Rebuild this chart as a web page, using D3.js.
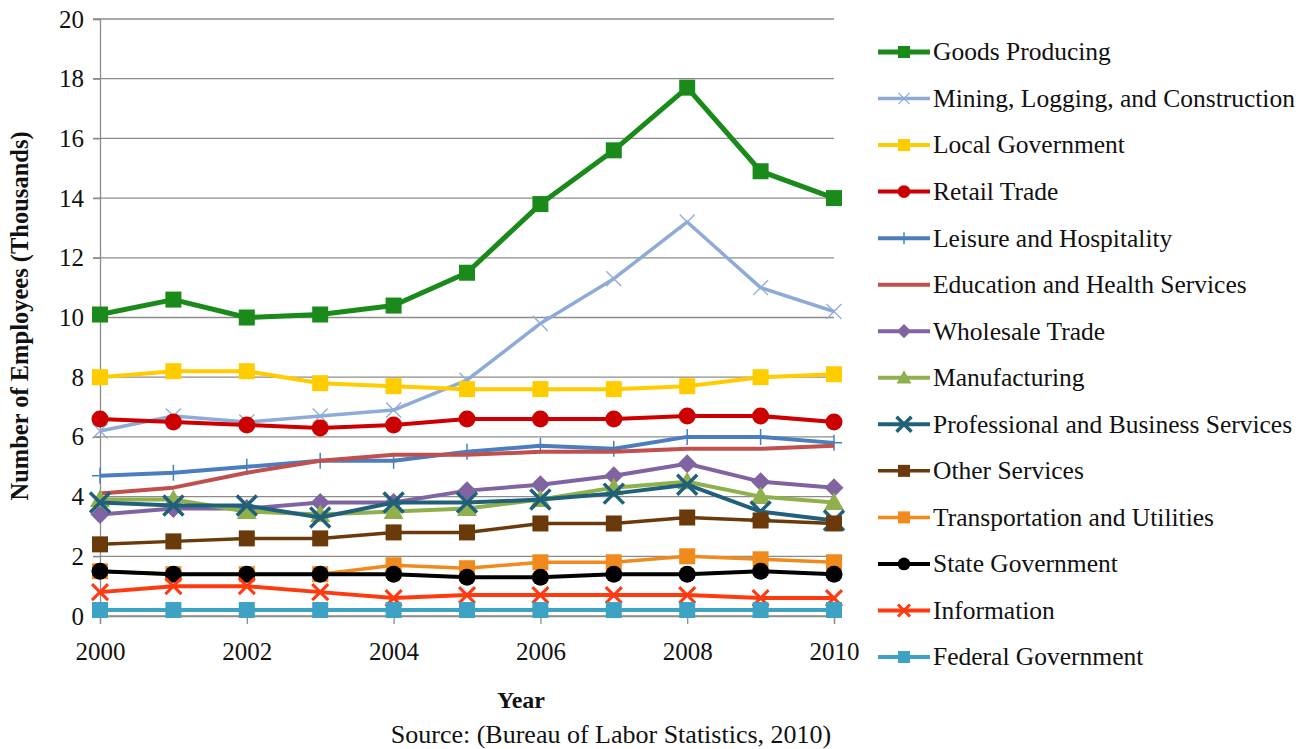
<!DOCTYPE html>
<html lang="en">
<head>
    <meta charset="UTF-8">
    <title>Employees by Sector 2000-2010</title>
    <script src="https://d3js.org/d3.v7.min.js"></script>
    <style>
        body { margin: 0; background: #fff; }
        svg { display: block; font-family: "Liberation Serif", "Times New Roman", serif; }
    </style>
</head>
<body>
    <svg id="chart" width="1313" height="749"></svg>

    <script>
        // Years on the x axis
        const years = [2000, 2001, 2002, 2003, 2004, 2005, 2006, 2007, 2008, 2009, 2010];
        const xTickYears = [2000, 2002, 2004, 2006, 2008, 2010];
        const yTicks = [0, 2, 4, 6, 8, 10, 12, 14, 16, 18, 20];

        // Series names (legend order)
        const seriesNames = [
            "Goods Producing",
            "Mining, Logging, and Construction",
            "Local Government",
            "Retail Trade",
            "Leisure and Hospitality",
            "Education and Health Services",
            "Wholesale Trade",
            "Manufacturing",
            "Professional and Business Services",
            "Other Services",
            "Transportation and Utilities",
            "State Government",
            "Information",
            "Federal Government"
        ];

        // Values (thousands)
        const goodsProducing   = [10.1, 10.6, 10.0, 10.1, 10.4, 11.5, 13.8, 15.6, 17.7, 14.9, 14.0];
        const miningLogging    = [6.2, 6.7, 6.5, 6.7, 6.9, 7.9, 9.8, 11.3, 13.2, 11.0, 10.2];
        const localGovernment  = [8.0, 8.2, 8.2, 7.8, 7.7, 7.6, 7.6, 7.6, 7.7, 8.0, 8.1];
        const retailTrade      = [6.6, 6.5, 6.4, 6.3, 6.4, 6.6, 6.6, 6.6, 6.7, 6.7, 6.5];
        const leisure          = [4.7, 4.8, 5.0, 5.2, 5.2, 5.5, 5.7, 5.6, 6.0, 6.0, 5.8];
        const education        = [4.1, 4.3, 4.8, 5.2, 5.4, 5.4, 5.5, 5.5, 5.6, 5.6, 5.7];
        const wholesaleTrade   = [3.4, 3.6, 3.6, 3.8, 3.8, 4.2, 4.4, 4.7, 5.1, 4.5, 4.3];
        const manufacturing    = [3.9, 3.9, 3.5, 3.4, 3.5, 3.6, 3.9, 4.3, 4.5, 4.0, 3.8];
        const professional     = [3.8, 3.7, 3.7, 3.3, 3.8, 3.8, 3.9, 4.1, 4.4, 3.5, 3.2];
        const otherServices    = [2.4, 2.5, 2.6, 2.6, 2.8, 2.8, 3.1, 3.1, 3.3, 3.2, 3.1];
        const transportation   = [1.5, 1.4, 1.4, 1.4, 1.7, 1.6, 1.8, 1.8, 2.0, 1.9, 1.8];
        const stateGovernment  = [1.5, 1.4, 1.4, 1.4, 1.4, 1.3, 1.3, 1.4, 1.4, 1.5, 1.4];
        const information      = [0.8, 1.0, 1.0, 0.8, 0.6, 0.7, 0.7, 0.7, 0.7, 0.6, 0.6];
        const federalGovernment = [0.2, 0.2, 0.2, 0.2, 0.2, 0.2, 0.2, 0.2, 0.2, 0.2, 0.2];

        const seriesValues = [
            goodsProducing, miningLogging, localGovernment, retailTrade, leisure,
            education, wholesaleTrade, manufacturing, professional, otherServices,
            transportation, stateGovernment, information, federalGovernment
        ];

        // Style per series: colour, marker type, line width
        const styles = [
            { color: "#1a8a1a", marker: "square", width: 5 },
            { color: "#8eabd8", marker: "x", width: 3.5 },
            { color: "#ffcc00", marker: "square", width: 4 },
            { color: "#cc0000", marker: "circle", width: 4 },
            { color: "#4a7ebf", marker: "plus", width: 4 },
            { color: "#c0504d", marker: "none", width: 4 },
            { color: "#8064a2", marker: "diamond", width: 4 },
            { color: "#8fb04c", marker: "triangle", width: 4 },
            { color: "#20607a", marker: "bigx", width: 4 },
            { color: "#6b3a0a", marker: "square", width: 3.5 },
            { color: "#f08a1c", marker: "square", width: 3.5 },
            { color: "#000000", marker: "circle", width: 4 },
            { color: "#ff3a10", marker: "x2", width: 4 },
            { color: "#3ea2c4", marker: "square", width: 4 }
        ];

        const series = seriesNames.map((name, i) => ({
            name,
            style: styles[i],
            values: years.map((y, j) => ({ year: y, value: seriesValues[i][j] }))
        }));

        const svg = d3.select("#chart");

        const xScale = d3.scaleLinear().domain([2000, 2010]).range([100, 834]);
        const yScale = d3.scaleLinear().domain([0, 20]).range([616, 19]);

        // Gridlines
        svg.append("g")
            .selectAll("line")
            .data(yTicks)
            .enter()
            .append("line")
            .attr("x1", 93)
            .attr("x2", 834)
            .attr("y1", d => yScale(d))
            .attr("y2", d => yScale(d))
            .attr("stroke", "#8c8c8c")
            .attr("stroke-width", 1.3);

        // y axis
        const yAxis = svg.append("g")
            .attr("transform", "translate(100,0)")
            .call(d3.axisLeft(yScale).tickValues(yTicks).tickSize(7).tickPadding(9));
        yAxis.select(".domain").attr("stroke", "#8c8c8c").attr("stroke-width", 1.3);
        yAxis.selectAll(".tick line").attr("stroke", "#8c8c8c").attr("stroke-width", 1.3);
        yAxis.selectAll("text").attr("font-size", 25).attr("font-family", "Liberation Serif").attr("fill", "#111");

        // x axis
        const xAxis = svg.append("g")
            .attr("transform", `translate(0,${yScale(0)})`)
            .call(d3.axisBottom(xScale).tickValues(xTickYears).tickFormat(d3.format("d")).tickSize(8).tickPadding(18));
        xAxis.select(".domain").attr("stroke", "#8c8c8c").attr("stroke-width", 1.3);
        xAxis.selectAll(".tick line").attr("stroke", "#8c8c8c").attr("stroke-width", 1.3);
        xAxis.selectAll("text").attr("font-size", 25).attr("font-family", "Liberation Serif").attr("fill", "#111");

        // Marker drawing helper
        function drawMarker(g, type, color, cx, cy, scale) {
            const k = scale || 1;
            if (type === "square") {
                const s = 16 * k;
                g.append("rect").attr("x", cx - s / 2).attr("y", cy - s / 2)
                    .attr("width", s).attr("height", s).attr("fill", color);
            } else if (type === "circle") {
                g.append("circle").attr("cx", cx).attr("cy", cy).attr("r", 8.5 * k).attr("fill", color);
            } else if (type === "diamond") {
                const r = 9.5 * k;
                g.append("path").attr("d", `M${cx},${cy - r}L${cx + r},${cy}L${cx},${cy + r}L${cx - r},${cy}Z`).attr("fill", color);
            } else if (type === "triangle") {
                const r = 10 * k;
                g.append("path").attr("d", `M${cx},${cy - r}L${cx + r},${cy + r * 0.75}L${cx - r},${cy + r * 0.75}Z`).attr("fill", color);
            } else if (type === "plus") {
                const r = 8 * k;
                g.append("path").attr("d", `M${cx},${cy - r}V${cy + r}M${cx - r},${cy}H${cx + r}`)
                    .attr("stroke", color).attr("stroke-width", 1.5).attr("fill", "none");
            } else if (type === "x" || type === "x2" || type === "bigx") {
                const r = (type === "bigx" ? 10 : type === "x2" ? 8 : 7.5) * k;
                const w = type === "bigx" ? 3.5 : type === "x2" ? 3 : 1.3;
                g.append("path").attr("d", `M${cx - r},${cy - r}L${cx + r},${cy + r}M${cx - r},${cy + r}L${cx + r},${cy - r}`)
                    .attr("stroke", color).attr("stroke-width", w).attr("fill", "none");
            }
        }

        const line = d3.line()
            .x(d => xScale(d.year))
            .y(d => yScale(d.value));

        // Lines and markers
        series.forEach(s => {
            const g = svg.append("g");
            g.append("path")
                .datum(s.values)
                .attr("d", line)
                .attr("fill", "none")
                .attr("stroke", s.style.color)
                .attr("stroke-width", s.style.width)
                .attr("stroke-linejoin", "round");
            s.values.forEach(d => {
                drawMarker(g, s.style.marker, s.style.color, xScale(d.year), yScale(d.value));
            });
        });

        // Legend
        const legendY = d3.scaleLinear().domain([0, seriesNames.length - 1]).range([52, 657]);
        const legend = svg.append("g");
        series.forEach((s, i) => {
            const y = legendY(i);
            const g = legend.append("g");
            g.append("line")
                .attr("x1", 878).attr("x2", 930)
                .attr("y1", y).attr("y2", y)
                .attr("stroke", s.style.color)
                .attr("stroke-width", s.style.width);
            drawMarker(g, s.style.marker, s.style.color, 904, y, 0.75);
            g.append("text")
                .attr("x", 933)
                .attr("y", y)
                .attr("dy", "0.33em")
                .attr("font-size", 25.5)
                .attr("fill", "#111")
                .text(s.name);
        });

        // y axis label
        svg.append("text")
            .attr("transform", "rotate(-90)")
            .attr("x", -316)
            .attr("y", 28)
            .attr("text-anchor", "middle")
            .attr("font-size", 24.5)
            .attr("font-weight", "bold")
            .attr("fill", "#111")
            .text("Number of Employees (Thousands)");

        // x axis label
        svg.append("text")
            .attr("x", 521)
            .attr("y", 708)
            .attr("text-anchor", "middle")
            .attr("font-size", 24)
            .attr("font-weight", "bold")
            .attr("fill", "#111")
            .text("Year");

        // Source
        svg.append("text")
            .attr("x", 611)
            .attr("y", 743)
            .attr("text-anchor", "middle")
            .attr("font-size", 26)
            .attr("fill", "#111")
            .text("Source: (Bureau of Labor Statistics, 2010)");
    </script>
</body>
</html>
